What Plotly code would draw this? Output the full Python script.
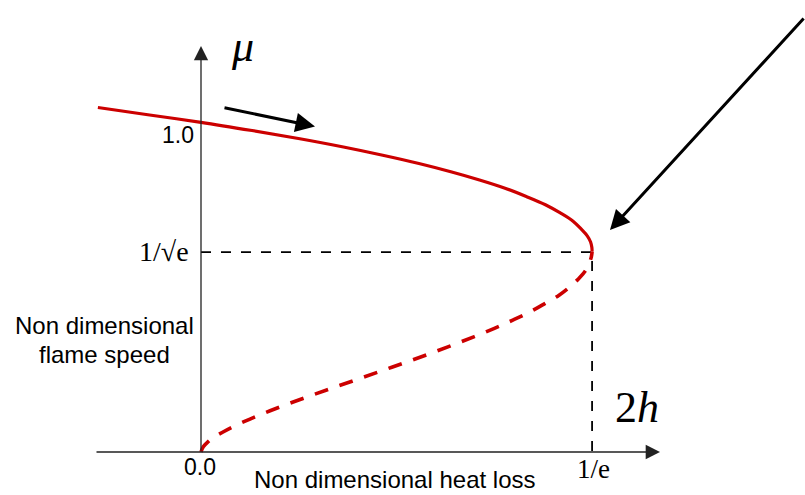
import plotly.graph_objects as go

# ---- data (x = 2h, y = mu) ----
upper_x = [-0.097, -0.050, 0.000, 0.048, 0.093, 0.134, 0.171, 0.205, 0.235, 0.262,
           0.286, 0.306, 0.324, 0.338, 0.350, 0.358, 0.3635, 0.3665, 0.3677, 0.3679]
upper_y = [1.045, 1.023, 1.000, 0.975, 0.950, 0.925, 0.900, 0.875, 0.850, 0.825,
           0.800, 0.775, 0.750, 0.725, 0.700, 0.675, 0.655, 0.637, 0.620, 0.607]

lower_x = [0.3679, 0.3672, 0.3655, 0.3617, 0.3550, 0.3466, 0.3365, 0.3234, 0.3095, 0.2933,
           0.2760, 0.2572, 0.2373, 0.2167, 0.1953, 0.1733, 0.1512, 0.1288, 0.1068, 0.0854,
           0.0650, 0.0461, 0.0290, 0.0203, 0.0109, 0.0063, 0.0020, 0.0000]
lower_y = [0.607, 0.592, 0.575, 0.550, 0.525, 0.500, 0.475, 0.450, 0.425, 0.400,
           0.375, 0.350, 0.325, 0.300, 0.275, 0.250, 0.225, 0.200, 0.175, 0.150,
           0.125, 0.100, 0.075, 0.060, 0.042, 0.030, 0.015, 0.000]

turn_x = 0.3679   # 1/e
turn_y = 0.6065   # 1/sqrt(e)

tick_labels = {"x0": "0.0", "xturn": "1/e", "y1": "1.0", "yturn": "1/√e"}

W, H = 805, 495
RED = "#cc0000"
AX = "#222222"


def px(x):
    return x / W


def py(y):
    return 1 - y / H


fig = go.Figure()

# guide lines to the turning point
fig.add_trace(go.Scatter(x=[0, turn_x, turn_x], y=[turn_y, turn_y, 0], mode="lines",
                         line=dict(color="black", width=1.8, dash="10px,10px"),
                         hoverinfo="skip"))
# stable (upper) branch
fig.add_trace(go.Scatter(x=upper_x, y=upper_y, mode="lines",
                         line=dict(color=RED, width=3.2, shape="spline"), hoverinfo="skip"))
# unstable (lower) branch (drawn from the origin so the dash pattern starts there)
fig.add_trace(go.Scatter(x=lower_x[::-1], y=lower_y[::-1], mode="lines",
                         line=dict(color=RED, width=3.6, dash="14px,12px", shape="spline"),
                         hoverinfo="skip"))

ann = []
# axes as arrows
ann.append(dict(xref="paper", yref="paper", x=px(660), y=py(452), ax=-565, ay=0,
                text="", showarrow=True, arrowhead=2, arrowsize=2.2, arrowwidth=1.3,
                arrowcolor=AX))
ann.append(dict(xref="paper", yref="paper", x=px(201), y=py(46), ax=0, ay=406,
                text="", showarrow=True, arrowhead=2, arrowsize=2.2, arrowwidth=1.3,
                arrowcolor=AX))
# direction arrows
ann.append(dict(xref="paper", yref="paper", x=px(315), y=py(126.5), ax=-92, ay=-19,
                text="", showarrow=True, arrowhead=2, arrowsize=1.3, arrowwidth=3,
                arrowcolor="black"))
ann.append(dict(xref="paper", yref="paper", x=px(610), y=py(230), ax=196, ay=-213,
                text="", showarrow=True, arrowhead=2, arrowsize=1.3, arrowwidth=3,
                arrowcolor="black"))

SANS = "Liberation Sans, Arial, sans-serif"
SERIF = "Liberation Serif, Times New Roman, serif"


def label(x, y, text, size, family, color="black"):
    ann.append(dict(xref="paper", yref="paper", x=px(x), y=py(y), text=text,
                    showarrow=False, xanchor="center", yanchor="middle",
                    font=dict(size=size, family=family, color=color)))


label(242, 47, "<i>μ</i>", 44, SERIF)
label(178, 135, tick_labels["y1"], 23, SANS)
label(164, 251, tick_labels["yturn"], 28, SERIF)
label(104, 325, "Non dimensional", 24, SANS)
label(104, 354, "flame speed", 24, SANS)
label(200, 467, tick_labels["x0"], 23, SANS)
label(395, 479, "Non dimensional heat loss", 24, SANS)
label(593, 469, tick_labels["xturn"], 27, SERIF)
label(637, 407, "2<i>h</i>", 44, SERIF)

fig.update_layout(
    width=W, height=H,
    margin=dict(l=0, r=0, t=0, b=0),
    paper_bgcolor="white", plot_bgcolor="white",
    showlegend=False,
    xaxis=dict(range=[-201 / 1063, (805 - 201) / 1063], visible=False, fixedrange=True),
    yaxis=dict(range=[-(495 - 452) / 329.7, 452 / 329.7], visible=False, fixedrange=True),
    annotations=ann,
)

fig.write_html("out.html", config={"displayModeBar": False},
               post_script="document.body.style.margin='0';document.body.style.overflow='hidden';")
